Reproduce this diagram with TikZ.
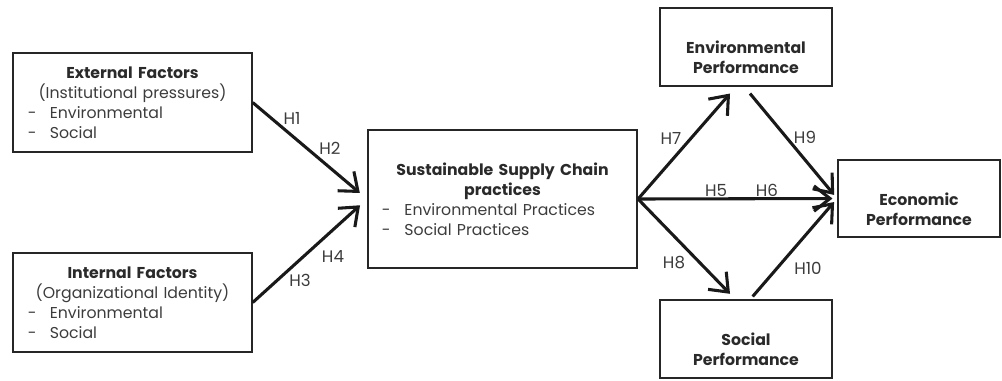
\documentclass[tikz,border=0pt]{standalone}
\usepackage{fontspec}
\setmainfont{Poppins}
\usetikzlibrary{arrows.meta}
\definecolor{txtgray}{HTML}{3C3C3C}
\definecolor{hdgray}{HTML}{2A2A2A}
\newcommand{\hd}[1]{\makebox[\hsize]{#1}}
\newcommand{\dashline}[2]{\makebox[#1][l]{-}#2}
\begin{document}
\begin{tikzpicture}[x=0.75pt,y=-0.75pt,
  box/.style={draw=black!85,line width=1.3pt,inner sep=0pt,text=txtgray,font=\fontsize{11.8}{15}\selectfont},
  arr/.style={line width=2.3pt,black!90,-{Straight Barb[length=12pt,width=19pt,line width=2.3pt]}},
  hyp/.style={text=txtgray,font=\fontsize{12.5}{14}\selectfont,inner sep=0pt}]
\useasboundingbox (0,0) rectangle (1002,380);
\node[box,minimum width=179pt,minimum height=74pt,text width=157pt,align=left] (ext) at (132.5,102.5)
  {\hd{\textcolor{hdgray}{\textbf{External Factors}}}\\\hd{(Institutional pressures)}\\\dashline{16.5pt}{Environmental}\\\dashline{16.5pt}{Social}};
\node[box,minimum width=179pt,minimum height=74pt,text width=157pt,align=left] (int) at (132.5,302.5)
  {\hd{\textcolor{hdgray}{\textbf{Internal Factors}}}\\\hd{(Organizational Identity)}\\\dashline{16.5pt}{Environmental}\\\dashline{16.5pt}{Social}};
\node[box,minimum width=202pt,minimum height=103.5pt,text width=181pt,align=left] (ssc) at (502.5,199)
  {\hd{\textcolor{hdgray}{\textbf{Sustainable Supply Chain}}}\\\hd{\textcolor{hdgray}{\textbf{practices}}}\\\dashline{17pt}{Environmental Practices}\\\dashline{17pt}{Social Practices}};
\node[box,minimum width=129pt,minimum height=58.5pt,align=center,text=hdgray] (envp) at (746,47)
  {\strut\\\textbf{Environmental}\\\textbf{Performance}};
\node[box,minimum width=129pt,minimum height=58.5pt,align=center,text=hdgray] (socp) at (746,339)
  {\strut\\\textbf{Social}\\\textbf{Performance}};
\node[box,minimum width=121.5pt,minimum height=57.5pt,align=center,text=hdgray] (ecop) at (919,198.5)
  {\strut\\\textbf{Economic}\\\textbf{Performance}};
\draw[arr,shorten >=7pt] (ext.east) -- (ssc.west);
\draw[arr,shorten >=7pt] (int.east) -- (ssc.west);
\draw[arr] (ssc.east) -- ([xshift=-12pt,yshift=-5pt]envp.south);
\draw[arr] (ssc.east) -- ([xshift=-12pt,yshift=4pt]socp.north);
\draw[arr,shorten >=3.5pt] (ssc.east) -- (ecop.west);
\draw[arr,shorten >=3.5pt] ([xshift=3pt,yshift=-5pt]envp.south) -- (ecop.west);
\draw[arr,shorten >=3.5pt] ([xshift=5pt,yshift=2pt]socp.north) -- (ecop.west);
\node[hyp] (h1) at (292,118) {H1};
\node[hyp] (h2) at (330,148) {H2};
\node[hyp] (h3) at (300,280) {H3};
\node[hyp] (h4) at (333,257) {H4};
\node[hyp] (h5) at (716,190) {H5};
\node[hyp] (h6) at (767,190) {H6};
\node[hyp] (h7) at (671,138) {H7};
\node[hyp] (h8) at (674,263) {H8};
\node[hyp] (h9) at (805,137) {H9};
\node[hyp] (h10) at (808,268) {H10};
\end{tikzpicture}
\end{document}
